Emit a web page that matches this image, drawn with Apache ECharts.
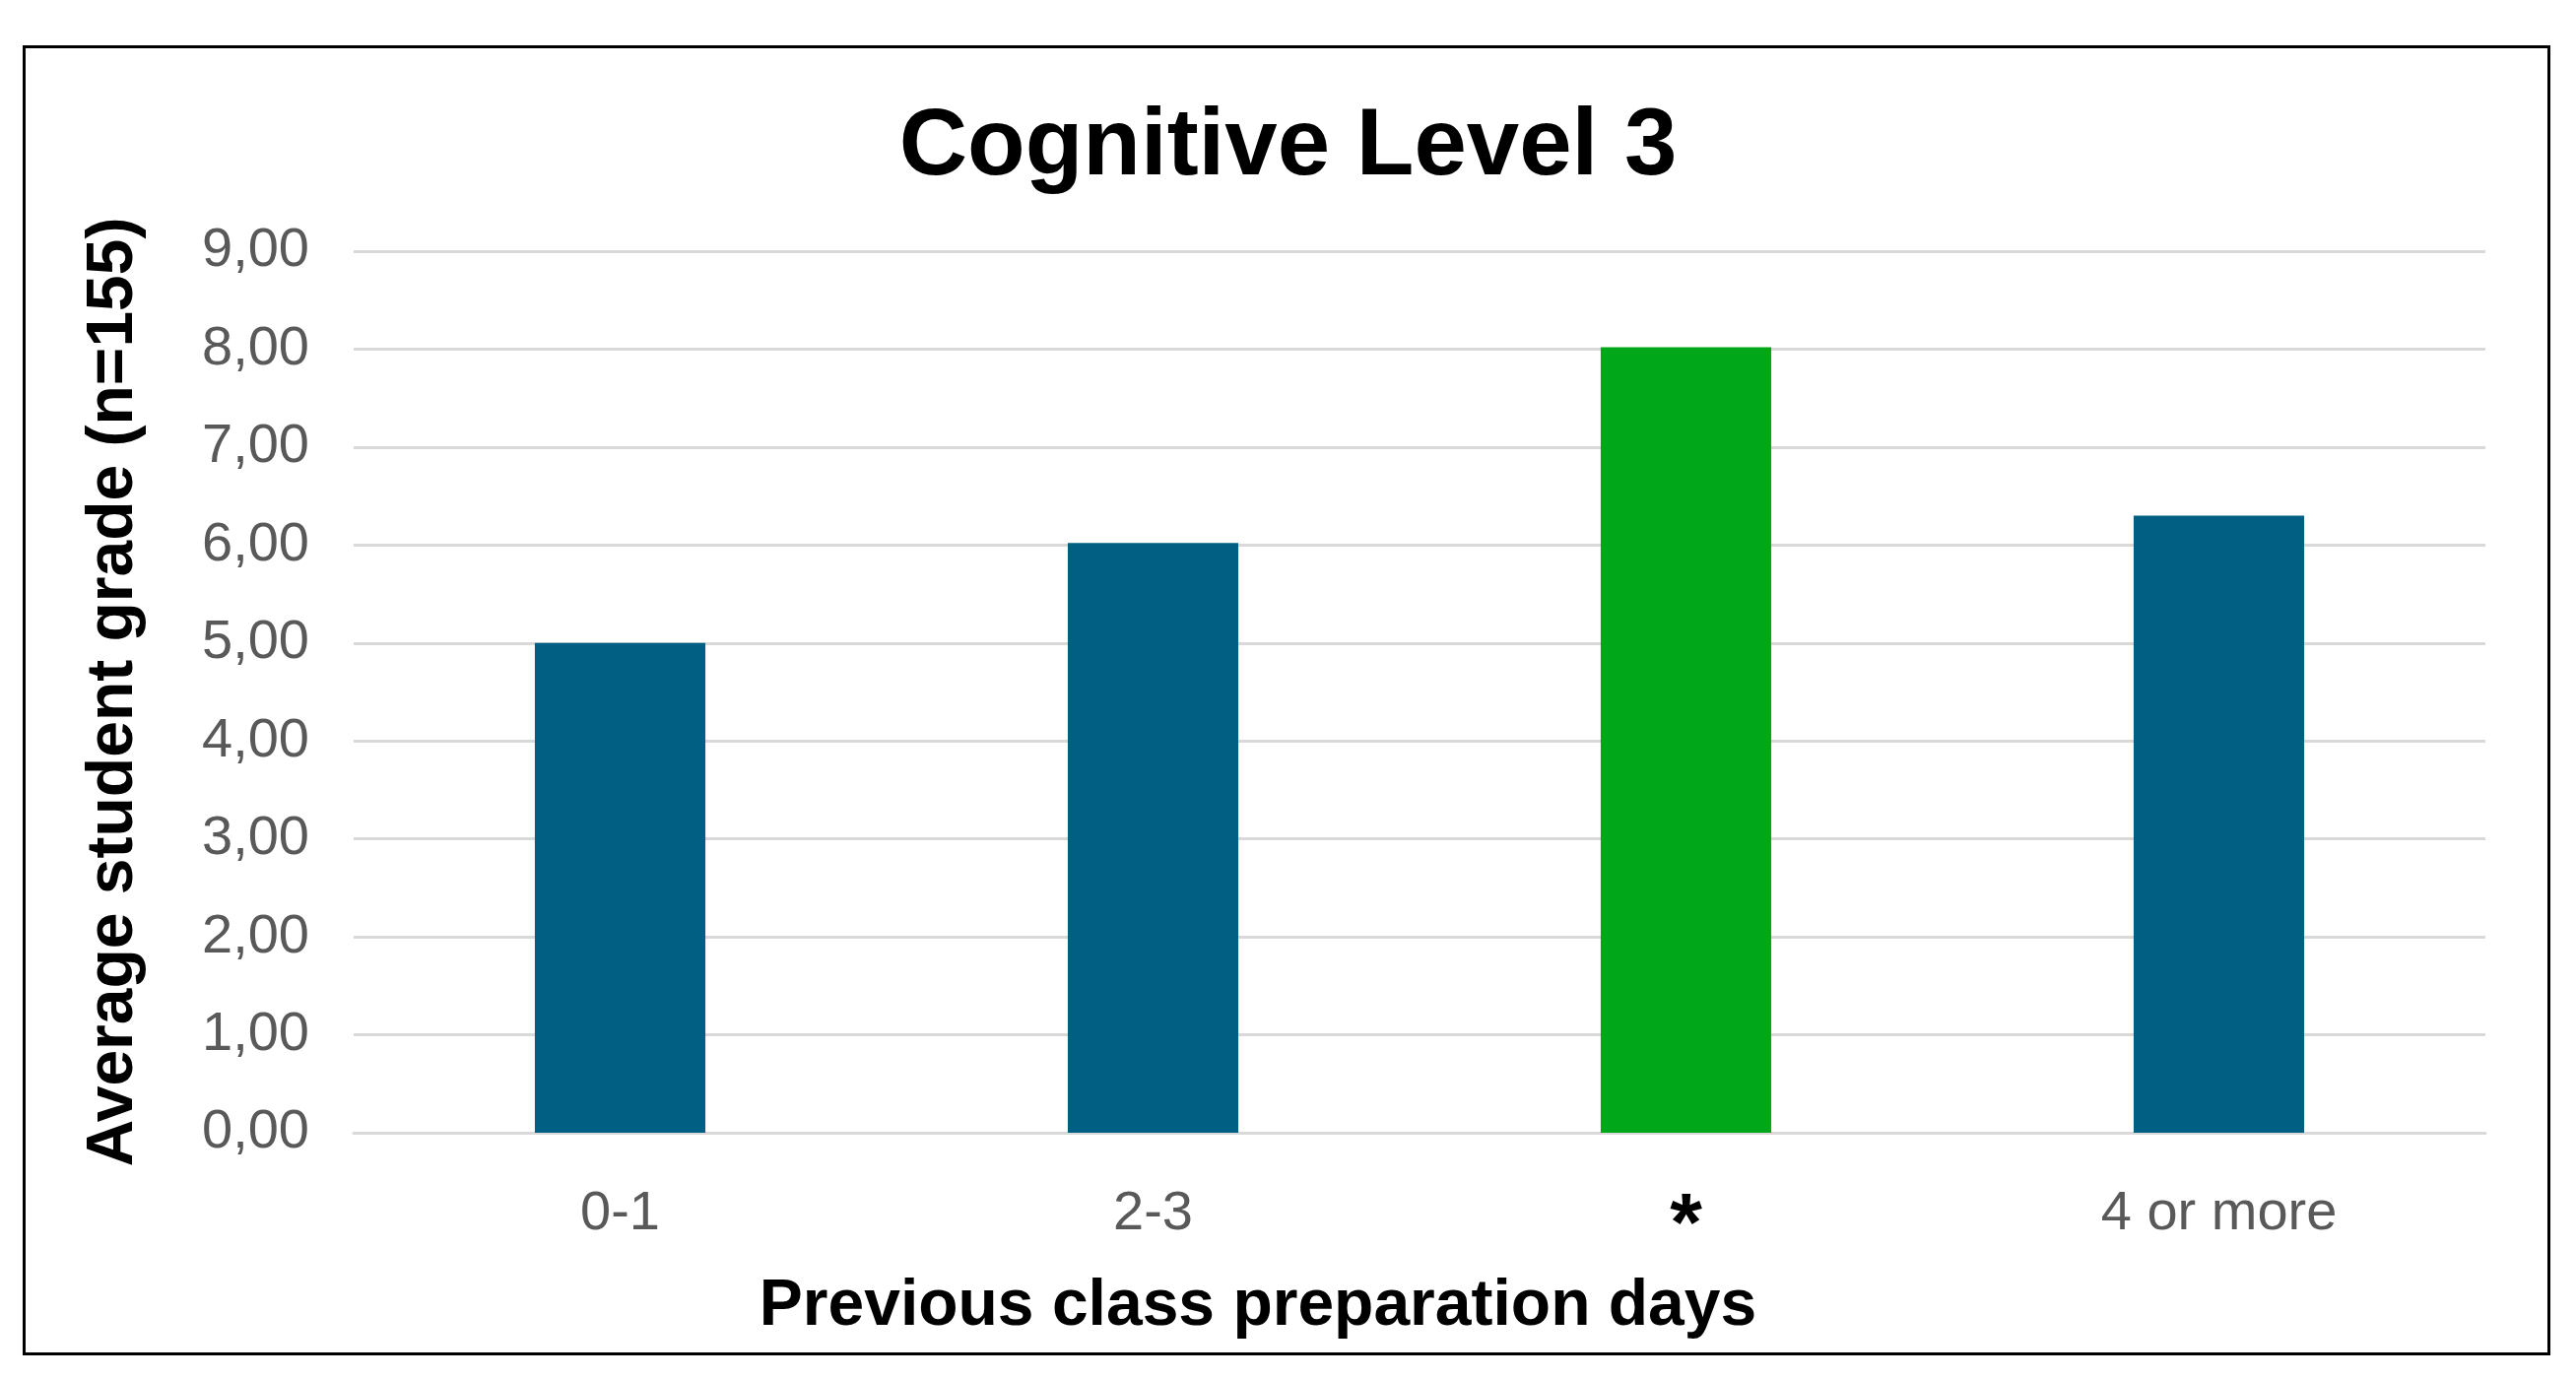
<!DOCTYPE html>
<html>
<head>
<meta charset="utf-8">
<script src="https://cdn.jsdelivr.net/npm/echarts@6/dist/echarts.min.js"></script>
<style>
html,body{margin:0;padding:0;background:#fff;}
#frame{position:absolute;left:23px;top:46px;width:2566px;height:1330px;border:3px solid #000;box-sizing:border-box;}
#main{position:absolute;left:0;top:0;width:2615px;height:1400px;}
</style>
</head>
<body>
<div id="frame"></div>
<div id="main"></div>
<script>
var categories = ['0-1', '2-3', '*', '4 or more'];
var grades = [5.00, 6.02, 8.02, 6.30];
var barColors = ['#005f83', '#005f83', '#00a819', '#005f83'];

var myChart = echarts.init(document.getElementById('main'));
var option = {
    title: {
        text: 'Cognitive Level 3', left: 'center', top: 98,
        textStyle: {fontFamily: 'Liberation Sans', fontSize: 96, fontWeight: 'bold', color: '#000'}
    },
    grid: {left: 359, right: 92, top: 255, bottom: 250},
    xAxis: {
        type: 'category', data: categories,
        name: 'Previous class preparation days', nameLocation: 'middle', nameGap: 140,
        nameTextStyle: {fontFamily: 'Liberation Sans', fontSize: 66, fontWeight: 'bold', color: '#000', padding: [0, 328, 0, 0]},
        axisLine: {lineStyle: {color: '#d9d9d9', width: 3}},
        axisTick: {show: false},
        axisLabel: {
            margin: 55, fontFamily: 'Liberation Sans', fontSize: 56, color: '#595959',
            formatter: function (v) { return v === '*' ? '{star|*}' : v; },
            rich: {star: {fontSize: 84, fontWeight: 'bold', color: '#000', fontFamily: 'Liberation Sans'}}
        }
    },
    yAxis: {
        type: 'value', min: 0, max: 9, interval: 1,
        name: 'Average student grade (n=155)', nameLocation: 'middle', nameGap: 210,
        nameTextStyle: {fontFamily: 'Liberation Sans', fontSize: 66, fontWeight: 'bold', color: '#000'},
        axisLabel: {
            margin: 45, fontFamily: 'Liberation Sans', fontSize: 56, color: '#595959',
            formatter: function (v) { return v.toFixed(2).replace('.', ','); }
        },
        splitLine: {lineStyle: {color: '#d9d9d9', width: 3}}
    },
    series: [{
        type: 'bar', barWidth: '32%',
        data: grades.map(function (v, i) { return {value: v, itemStyle: {color: barColors[i]}}; })
    }]
};
myChart.setOption(option);
</script>
</body>
</html>
